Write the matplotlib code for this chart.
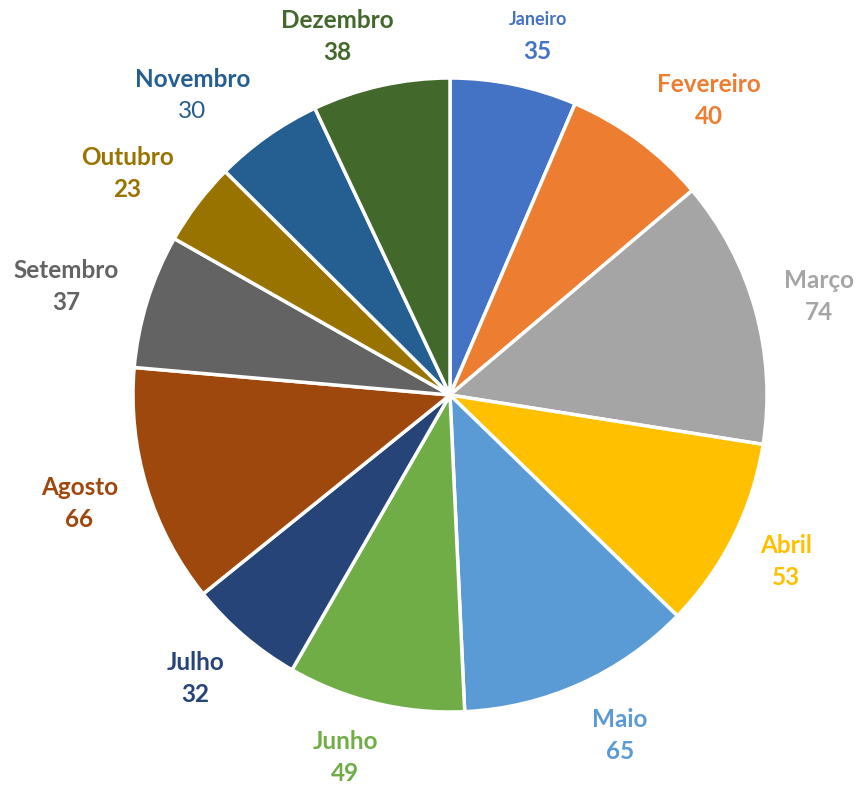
import matplotlib.pyplot as plt
import numpy as np

# monthly counts
months = ["Janeiro", "Fevereiro", "Março", "Abril", "Maio", "Junho",
          "Julho", "Agosto", "Setembro", "Outubro", "Novembro", "Dezembro"]
counts = [35, 40, 74, 53, 65, 49, 32, 66, 37, 23, 30, 38]
colors = ["#4472C4", "#ED7D31", "#A5A5A5", "#FFC000", "#5B9BD5", "#70AD47",
          "#264478", "#9E480E", "#636363", "#997300", "#255E91", "#43682B"]

W, H = 858, 787
cx, cy, R = 450, H - 395, 317

fig = plt.figure(figsize=(W / 100, H / 100), dpi=100)
ax = fig.add_axes([0, 0, 1, 1])

wedges, _ = ax.pie(counts, colors=colors, startangle=90, counterclock=False,
                   radius=R, center=(cx, cy), frame=True,
                   wedgeprops=dict(edgecolor="white", linewidth=2.5))
ax.set_xlim(0, W)
ax.set_ylim(0, H)
ax.set_aspect("equal")
ax.axis("off")

font = "Lato"
renderer = fig.canvas.get_renderer()
for w, name, val, col in zip(wedges, months, counts, colors):
    ang = np.deg2rad((w.theta1 + w.theta2) / 2)
    c, s = np.cos(ang), np.sin(ang)
    size = 13 if name == "Janeiro" else 17.5
    t1 = ax.text(0, 0, name, ha="center", va="center", color=col,
                 fontsize=size, fontweight="bold", family=font)
    t2 = ax.text(0, 0, str(val), ha="center", va="center", color=col,
                 fontsize=17.5, fontweight="normal" if name == "Novembro" else "bold",
                 family=font)
    # anchor just outside the rim, then slide the label box away from it
    hw = max(t1.get_window_extent(renderer).width,
             t2.get_window_extent(renderer).width) / 2
    hh = 30 if s > 0 else 36
    tx = cx + (R + 30) * c + hw * np.clip(3 * c, -1, 1)
    ty = cy + (R + 20) * s + hh * s
    t1.set_position((tx, ty + 16))
    t2.set_position((tx, ty - 16))

fig.savefig("out.png", dpi=100)
